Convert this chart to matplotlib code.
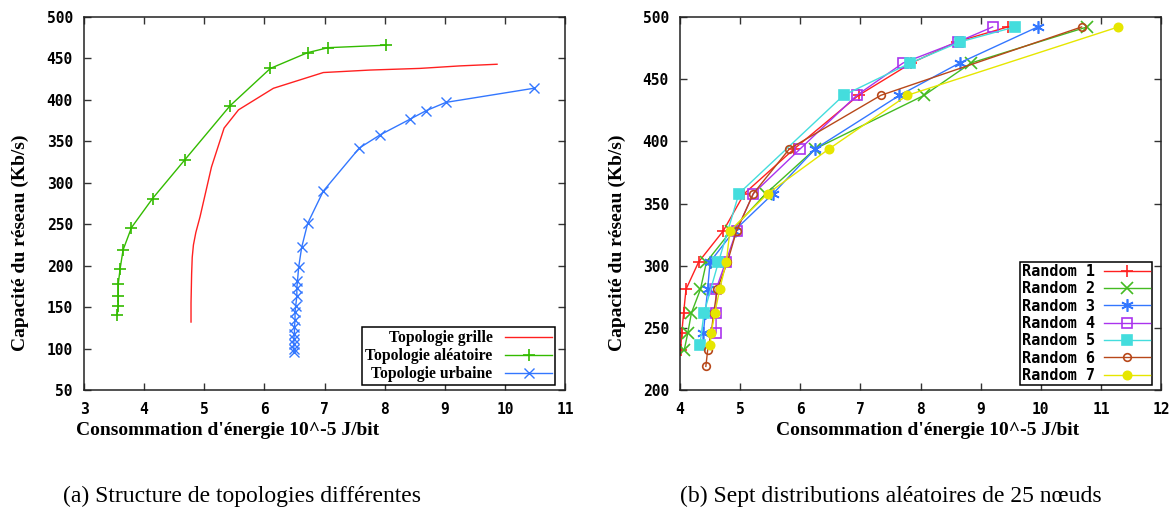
import matplotlib
matplotlib.use("Agg")
import matplotlib.pyplot as plt

# ---------------- data: left panel ----------------
grille_x = [4.78, 4.78, 4.79, 4.80, 4.82, 4.86, 4.93, 5.12, 5.33, 5.57, 6.15, 6.98, 7.76, 8.59, 9.25, 9.87]
grille_y = [132, 155, 190, 210, 225, 240, 259, 319, 366, 388, 414, 433, 436, 438, 441, 443]

alea_x = [3.55, 3.57, 3.57, 3.57, 3.60, 3.65, 3.79, 4.14, 4.68, 5.43, 6.10, 6.72, 7.06, 8.03]
alea_y = [140, 151, 164, 178, 196, 219, 246, 281, 328, 393, 438, 457, 463, 466]

urb_x = [6.49, 6.49, 6.49, 6.49, 6.50, 6.50, 6.51, 6.51, 6.52, 6.54, 6.54, 6.55,
         6.57, 6.62, 6.72, 6.98, 7.58, 7.93, 8.43, 8.69, 9.02, 10.48]
urb_y = [96, 100, 106, 112, 118, 126, 134, 144, 151, 163, 173, 181,
         198, 222, 251, 290, 342, 358, 377, 387, 397, 414]

left_labels = ["Topologie grille", "Topologie aléatoire", "Topologie urbaine"]

# ---------------- data: right panel ----------------
r1_x = [4.01, 4.03, 4.06, 4.10, 4.31, 4.72, 5.07, 5.90, 6.97, 7.85, 8.60, 9.45]
r1_y = [232, 246, 262, 281, 303, 328, 358, 394, 437, 463, 480, 492]
r2_x = [4.07, 4.13, 4.19, 4.34, 4.44, 4.85, 5.43, 6.25, 8.06, 8.84, 10.77]
r2_y = [232, 246, 262, 281, 303, 328, 358, 394, 437, 463, 492]
r3_x = [4.39, 4.42, 4.46, 4.50, 4.90, 5.55, 6.25, 7.65, 8.65, 9.95]
r3_y = [246, 262, 281, 303, 328, 358, 394, 437, 463, 492]
r4_x = [4.60, 4.60, 4.60, 4.76, 4.94, 5.22, 6.00, 6.94, 7.71, 8.62, 9.20]
r4_y = [246, 262, 281, 303, 328, 358, 394, 437, 463, 480, 492]
r5_x = [4.33, 4.40, 4.64, 4.98, 6.72, 7.83, 8.66, 9.57]
r5_y = [236, 262, 303, 358, 437, 463, 480, 492]
r6_x = [4.43, 4.46, 4.52, 4.56, 4.62, 4.79, 4.94, 5.22, 5.82, 7.34, 10.68]
r6_y = [219, 232, 246, 262, 281, 303, 328, 358, 394, 437, 492]
r7_x = [4.50, 4.52, 4.58, 4.66, 4.77, 4.83, 5.46, 6.48, 7.78, 11.29]
r7_y = [236, 246, 262, 281, 303, 328, 358, 394, 437, 492]

right_labels = ["Random 1", "Random 2", "Random 3", "Random 4", "Random 5", "Random 6", "Random 7"]

left_xticks = [3, 4, 5, 6, 7, 8, 9, 10, 11]
left_yticks = [50, 100, 150, 200, 250, 300, 350, 400, 450, 500]
right_xticks = [4, 5, 6, 7, 8, 9, 10, 11, 12]
right_yticks = [200, 250, 300, 350, 400, 450, 500]

xlabel = "Consommation d'énergie 10^-5 J/bit"
ylabel = "Capacité du réseau (Kb/s)"
cap_a = "(a) Structure de topologies différentes"
cap_b = "(b) Sept distributions aléatoires de 25 nœuds"

# ---------------- styling ----------------
W, H = 1176, 509
fig = plt.figure(figsize=(W / 100, H / 100), dpi=100)

def ax_rect(l, t, r, b):
    return [l / W, 1 - b / H, (r - l) / W, (b - t) / H]

axL = fig.add_axes(ax_rect(84, 17, 565, 390))
axR = fig.add_axes(ax_rect(680, 17, 1161, 390))

tickfont = dict(family="DejaVu Sans Mono", weight="bold", size=10.5)
serif_bold = dict(family="Liberation Serif", weight="bold", size=14)

def style(ax, xt, yt, xl, yl):
    ax.set_xlim(xl)
    ax.set_ylim(yl)
    ax.set_xticks(xt)
    ax.set_yticks(yt)
    ax.set_xticklabels([str(v) for v in xt], fontdict=tickfont)
    ax.set_yticklabels([str(v) for v in yt], fontdict=tickfont)
    ax.tick_params(direction="in", length=5, width=1, top=True, right=True,
                   color="#333333")
    ax.tick_params(axis="x", pad=9)
    ax.tick_params(axis="y", pad=8)
    for s in ax.spines.values():
        s.set_linewidth(1.1)
        s.set_color("#222222")
    ax.set_xlabel(xlabel, fontdict=serif_bold)
    ax.set_ylabel(ylabel, fontdict=serif_bold)

style(axL, left_xticks, left_yticks, (3, 11), (50, 500))
style(axR, right_xticks, right_yticks, (4, 12), (200, 500))

axL.xaxis.set_label_coords((228 - 84) / 481, -(422 - 390) / 373)
axL.yaxis.set_label_coords(-(84 - 20) / 481, (390 - 243) / 373)
axR.xaxis.set_label_coords((928 - 680) / 481, -(422 - 390) / 373)
axR.yaxis.set_label_coords(-(680 - 617) / 481, (390 - 243) / 373)
for a in (axL, axR):
    a.xaxis.label.set_va("top")
    a.yaxis.label.set_va("center")

lw = 1.0
# left panel
axL.plot(grille_x, grille_y, color="#ff2020", lw=lw, label=left_labels[0])
axL.plot(alea_x, alea_y, color="#33bb00", lw=lw, marker="+", ms=9, mew=1.2, label=left_labels[1])
axL.plot(urb_x, urb_y, color="#3377ff", lw=lw, marker="x", ms=7, mew=1.0, label=left_labels[2])

legL = axL.legend(loc="lower right", bbox_to_anchor=(0.98, 0.013), borderaxespad=0,
                  markerfirst=False, fancybox=False, framealpha=1, edgecolor="black",
                  prop=dict(family="Liberation Serif", weight="bold", size=11.3),
                  handlelength=3.0, labelspacing=0.12, borderpad=0.2, handletextpad=0.8)
legL.get_frame().set_linewidth(1.1)

# right panel
series = [
    (r1_x, r1_y, "#ff2020", "+", 9, "full"),
    (r2_x, r2_y, "#44bb22", "x", 8, "full"),
    (r3_x, r3_y, "#3377ff", (6, 2, 0), 9, "full"),
    (r4_x, r4_y, "#aa33ee", "s", 7.5, "none"),
    (r5_x, r5_y, "#44dddd", "s", 7.5, "full"),
    (r6_x, r6_y, "#b8481a", "o", 5.5, "none"),
    (r7_x, r7_y, "#e6e600", "o", 6, "full"),
]
for (xs, ys, c, m, ms, fill), lab in zip(series, right_labels):
    axR.plot(xs, ys, color=c, lw=lw, marker=m, ms=ms, mew=1.2, fillstyle=fill,
             markerfacecolor=(c if fill == "full" else "none"), label=lab)

legR = axR.legend(loc="lower right", bbox_to_anchor=(0.982, 0.013), borderaxespad=0,
                  markerfirst=False, fancybox=False, framealpha=1, edgecolor="black",
                  prop=dict(family="DejaVu Sans Mono", weight="bold", size=11),
                  handlelength=3.0, labelspacing=0.15, borderpad=0.15, handletextpad=0.6)
legR.get_frame().set_linewidth(1.1)

# captions
capfont = dict(family="Liberation Serif", size=17)
fig.text(242 / W, 1 - 496 / H, cap_a, ha="center", va="center", **capfont)
fig.text(891 / W, 1 - 496 / H, cap_b, ha="center", va="center", **capfont)

fig.savefig("out.png", dpi=100)
